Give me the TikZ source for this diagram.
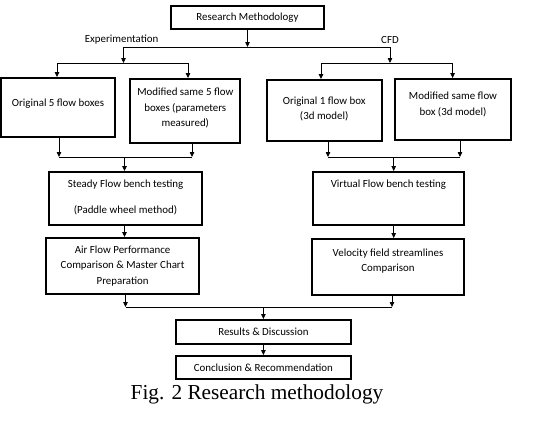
\documentclass[tikz,border=0pt]{standalone}
\usepackage{fontspec}
\setmainfont{Carlito}
\newfontfamily\capfont{Liberation Serif}
\usetikzlibrary{arrows.meta}
\begin{document}
\begin{tikzpicture}[x=1pt,y=-1pt,
  box/.style={draw, line width=1.9pt, inner sep=0pt},
  txt/.style={font=\fontsize{10.9}{15.5}\selectfont, align=center, inner sep=0pt},
  conn/.style={line width=0.75pt},
  arr/.style={line width=0.75pt, -{Triangle[length=5pt,width=4.5pt]}},
]
\useasboundingbox (0,0) rectangle (541,423);

% boxes
\node[box, minimum width=153.5pt, minimum height=23pt] (rm) at (247.5,17.5) {};
\node[box, minimum width=114pt, minimum height=59pt] (o5) at (58,107.5) {};
\node[box, minimum width=110pt, minimum height=64pt] (m5) at (185.3,111) {};
\node[box, minimum width=115pt, minimum height=61pt] (o1) at (324.2,110.5) {};
\node[box, minimum width=116pt, minimum height=61pt] (m1) at (453,109.5) {};
\node[box, minimum width=152.5pt, minimum height=53pt] (st) at (125.5,198.5) {};
\node[box, minimum width=151.5pt, minimum height=53pt] (vt) at (388.4,198.5) {};
\node[box, minimum width=152.5pt, minimum height=56pt] (air) at (122.6,266) {};
\node[box, minimum width=152.5pt, minimum height=56pt] (vel) at (388,267) {};
\node[box, minimum width=175.6pt, minimum height=24pt] (res) at (263.4,332) {};
\node[box, minimum width=175.6pt, minimum height=23pt] (con) at (263.4,367.5) {};

% texts
\node[txt] (t-rm) at (rm) {Research Methodology};
\node[txt] (t-exp) at (121.6,40) {Experimentation};
\node[txt] (t-cfd) at (390,40) {CFD};
\node[txt] (t-o5) at (58,104) {Original 5 flow boxes};
\node[txt] (t-m5) at (185.3,108) {Modified same 5 flow\\boxes (parameters\\measured)};
\node[txt] (t-o1) at (324.2,109) {Original 1 flow box\\(3d model)};
\node[txt] (t-m1) at (453,104.5) {Modified same flow\\box (3d model)};
\node[txt] (t-st) at (125.5,197) {Steady Flow bench testing\\[10.5pt](Paddle wheel method)};
\node[txt] (t-vt) at (388.4,185) {Virtual Flow bench testing};
\node[txt] (t-air) at (122.6,266) {Air Flow Performance\\Comparison \& Master Chart\\Preparation};
\node[txt] (t-vel) at (388,261) {Velocity field streamlines\\Comparison};
\node[txt] (t-res) at (res) {Results \& Discussion};
\node[txt] (t-con) at (con) {Conclusion \& Recommendation};
\node[font=\capfont\fontsize{21.3}{26}\selectfont, anchor=base, inner sep=0pt] (cap) at (257,399) {Fig. 2 Research methodology};

% junction coordinates
\coordinate (jt) at (247.5,47);
\coordinate (jl) at (123.5,47);
\coordinate (jr) at (390,47);
\coordinate (jl2) at (123.5,63);
\coordinate (jr2) at (390,63);
\coordinate (l1a) at (57,63);
\coordinate (l1b) at (188,63);
\coordinate (r1a) at (321,63);
\coordinate (r1b) at (452.6,63);
\coordinate (l2a) at (59,157);
\coordinate (l2b) at (192,157);
\coordinate (jl3) at (124.5,157);
\coordinate (r2a) at (328,157);
\coordinate (r2b) at (460,157);
\coordinate (jr3) at (393.7,157);
\coordinate (b1) at (125.5,307);
\coordinate (b2) at (392,307);
\coordinate (bj) at (263.4,307);

% connectors
\draw[arr] (rm.south) -- (jt);
\draw[conn] (jl) -- (jr);
\draw[arr] (jl) -- (jl2);
\draw[arr] (jr) -- (jr2);
\draw[conn] (l1a) -- (l1b);
\draw[conn] (r1a) -- (r1b);
\draw[arr] (l1a) -- (o5.north -| l1a);
\draw[arr] (l1b) -- (m5.north -| l1b);
\draw[arr] (r1a) -- (o1.north -| r1a);
\draw[arr] (r1b) -- (m1.north -| r1b);

\draw[arr] (o5.south -| l2a) -- (l2a);
\draw[arr] (m5.south -| l2b) -- (l2b);
\draw[conn] (l2a) -- (l2b);
\draw[arr] (jl3) -- (st.north -| jl3);
\draw[arr] (o1.south -| r2a) -- (r2a);
\draw[arr] (m1.south -| r2b) -- (r2b);
\draw[conn] (r2a) -- (r2b);
\draw[arr] (jr3) -- (vt.north -| jr3);

\draw[arr] (st.south -| jl3) -- (air.north -| jl3);
\draw[arr] (vt.south -| jr3) -- (vel.north -| jr3);

\draw[arr] (air.south -| b1) -- (b1);
\draw[arr] (vel.south -| b2) -- (b2);
\draw[conn] (b1) -- (b2);
\draw[arr] (bj) -- (res.north);
\draw[arr] (res.south) -- (con.north);
\end{tikzpicture}
\end{document}
